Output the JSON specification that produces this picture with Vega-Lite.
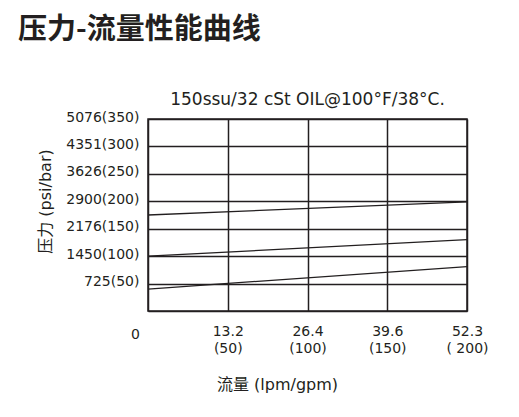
{
  "$schema": "https://vega.github.io/schema/vega-lite/v6.json",
  "width": 319,
  "height": 192,
  "autosize": "none",
  "padding": {"left": 148, "top": 119, "right": 52, "bottom": 106},
  "background": "white",
  "title": {
    "text": "压力-流量性能曲线",
    "anchor": "start",
    "frame": "group",
    "dx": -130,
    "dy": -41,
    "font": "Noto Sans CJK SC",
    "fontSize": 29,
    "fontWeight": "bold",
    "color": "#231f20"
  },
  "config": {"view": {"stroke": "#231f20", "strokeWidth": 1.5}},
  "data": {
    "values": [
      {"curve": "A", "gpm": 0, "bar": 175},
      {"curve": "A", "gpm": 200, "bar": 199},
      {"curve": "B", "gpm": 0, "bar": 100},
      {"curve": "B", "gpm": 200, "bar": 130},
      {"curve": "C", "gpm": 0, "bar": 40},
      {"curve": "C", "gpm": 200, "bar": 81}
    ]
  },
  "layer": [
    {
      "mark": {"type": "line", "color": "#231f20", "strokeWidth": 1.3},
      "encoding": {
        "x": {
          "field": "gpm",
          "type": "quantitative",
          "scale": {"domain": [0, 200], "nice": false, "zero": false},
          "axis": {
            "values": [0, 50, 100, 150, 200],
            "labelExpr": "datum.value == 0 ? '0' : datum.value == 50 ? ['13.2', '(50)'] : datum.value == 100 ? ['26.4', '(100)'] : datum.value == 150 ? ['39.6', '(150)'] : ['52.3', '( 200)']",
            "grid": true,
            "gridColor": "#231f20",
            "gridWidth": 1.5,
            "gridOpacity": 1,
            "domain": false,
            "ticks": false,
            "tickSize": 0,
            "labelFlush": false,
            "labelOverlap": false,
            "labelBound": false,
            "labelPadding": {"condition": {"test": "datum.value === 0", "value": 16}, "value": 13},
            "labelOffset": {"condition": {"test": "datum.value === 0", "value": -13}, "value": 0},
            "labelLineHeight": 17,
            "labelFont": "DejaVu Sans",
            "labelFontSize": 14,
            "labelColor": "#231f20",
            "title": "流量 (lpm/gpm)",
            "titleFont": "DejaVu Sans, Noto Sans CJK SC",
            "titleFontSize": 16,
            "titleFontWeight": "normal",
            "titleColor": "#231f20",
            "titleX": 129,
            "titleY": 78,
            "titleAlign": "center",
            "titleBaseline": "alphabetic"
          }
        },
        "y": {
          "field": "bar",
          "type": "quantitative",
          "scale": {"domain": [0, 350], "nice": false},
          "axis": {
            "values": [0, 50, 100, 150, 200, 250, 300, 350],
            "labelExpr": "datum.value == 350 ? '5076(350)' : datum.value == 300 ? '4351(300)' : datum.value == 250 ? '3626(250)' : datum.value == 200 ? '2900(200)' : datum.value == 150 ? '2176(150)' : datum.value == 100 ? '1450(100)' : datum.value == 50 ? '725(50)' : ''",
            "grid": true,
            "gridColor": "#231f20",
            "gridWidth": 1.5,
            "gridOpacity": 1,
            "domain": false,
            "ticks": false,
            "tickSize": 0,
            "labelPadding": 9,
            "labelOffset": -2,
            "labelOverlap": false,
            "labelBound": false,
            "labelFlush": false,
            "labelFont": "DejaVu Sans",
            "labelFontSize": 14,
            "labelColor": "#231f20",
            "title": "压力 (psi/bar)",
            "titleFont": "DejaVu Sans, Noto Sans CJK SC",
            "titleFontSize": 16,
            "titleFontWeight": "normal",
            "titleColor": "#231f20",
            "titleAngle": 270,
            "titleX": -103,
            "titleY": 82,
            "titleAlign": "center",
            "titleBaseline": "middle"
          }
        },
        "detail": {"field": "curve", "type": "nominal"}
      }
    },
    {
      "mark": {"type": "tick", "opacity": 0},
      "encoding": {
        "x": {
          "field": "gpm",
          "type": "quantitative",
          "axis": {
            "orient": "top",
            "labels": false,
            "ticks": false,
            "domain": false,
            "grid": false,
            "title": "150ssu/32 cSt OIL@100°F/38°C.",
            "titleFont": "DejaVu Sans",
            "titleFontSize": 17,
            "titleFontWeight": "normal",
            "titleColor": "#231f20",
            "titleX": 159,
            "titleY": -15,
            "titleAlign": "center",
            "titleBaseline": "alphabetic"
          }
        }
      }
    }
  ],
  "resolve": {"axis": {"x": "independent"}}
}
